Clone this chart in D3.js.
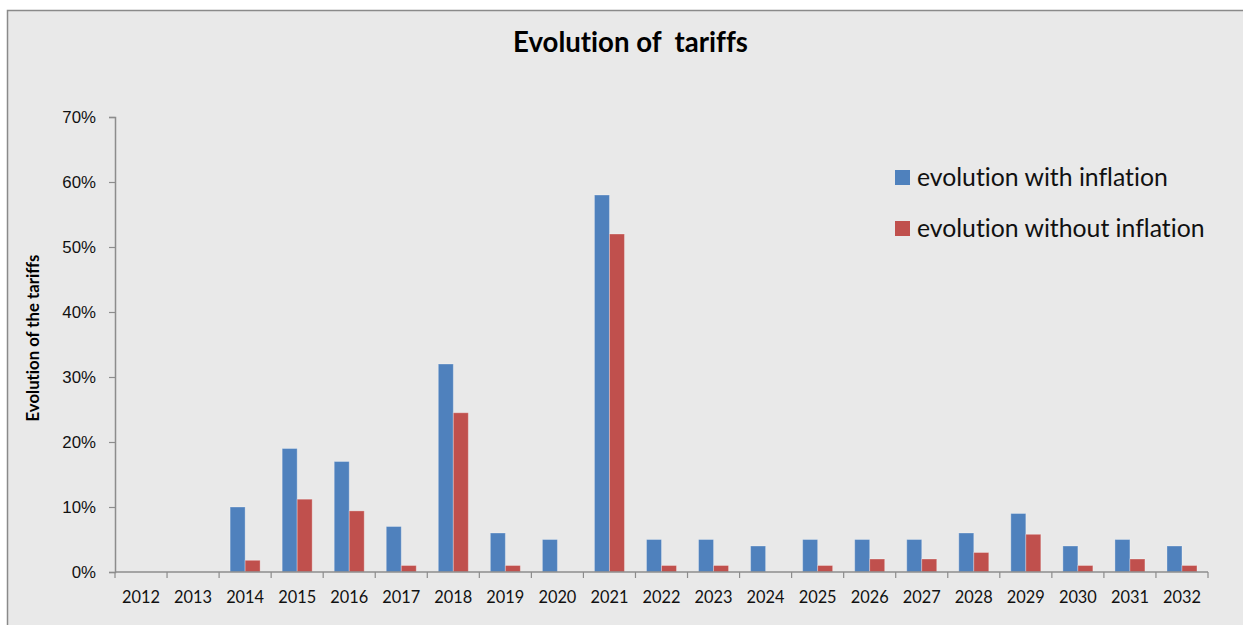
<!DOCTYPE html>
<html>
<head>
<meta charset="utf-8">
<script src="https://cdn.jsdelivr.net/npm/d3@7"></script>
<style>
  html, body { margin: 0; padding: 0; background: #ffffff; }
  svg { display: block; font-family: Lato, "Open Sans", sans-serif; font-variant-ligatures: none; }
</style>
</head>
<body>
<svg id="chart" width="1243" height="625"></svg>
<script>
// Tariff evolution per year, in percent
const years = ["2012","2013","2014","2015","2016","2017","2018","2019","2020","2021","2022",
               "2023","2024","2025","2026","2027","2028","2029","2030","2031","2032"];
const withInflation    = [0, 0, 10, 19, 17, 7, 32, 6, 5, 58, 5, 5, 4, 5, 5, 5, 6, 9, 4, 5, 4];
const withoutInflation = [0, 0, 1.8, 11.2, 9.4, 1, 24.5, 1, 0, 52, 1, 1, 0, 1, 2, 2, 3, 5.8, 1, 2, 1];
const seriesNames = ["evolution with inflation", "evolution without inflation"];
const seriesColors = ["#4F81BD", "#C0504D"];
const yTicks = [0, 10, 20, 30, 40, 50, 60, 70];

const svg = d3.select("#chart");

// font size that makes a sample string span the given width
function sizeFor(sample, width, weight) {
  const t = svg.append("text").attr("font-size", 100)
    .attr("font-weight", weight || "normal").style("white-space", "pre").text(sample);
  const w = t.node().getComputedTextLength();
  t.remove();
  return 100 * width / w;
}
const tickSize  = sizeFor("2012", 38);
const yTickSize = sizeFor("70%", 33);
const titleSize = sizeFor("Evolution of  tariffs", 235, "bold");
const yTitleSize = sizeFor("Evolution of the tariffs", 167, "bold");
const legendSize = sizeFor("evolution with inflation", 251);

// chart frame
svg.append("rect")
  .attr("x", 7.5).attr("y", 10.5)
  .attr("width", 1245).attr("height", 625)
  .attr("fill", "#e9e9e9").attr("stroke", "#8a8a8a").attr("stroke-width", 1.5);

const plot = { left: 115, right: 1208, top: 117, bottom: 572 };

const x = d3.scaleBand().domain(years).range([plot.left, plot.right]).padding(0);
const xs = d3.scaleBand().domain(seriesNames).range([0, x.bandwidth()])
  .paddingInner(0).paddingOuter(0.735);
const y = d3.scaleLinear().domain([0, 70]).range([plot.bottom, plot.top]);

const rows = years.map((yr, i) => ({ year: yr, values: [withInflation[i], withoutInflation[i]] }));

// bars
const groups = svg.append("g").selectAll("g").data(rows).join("g")
  .attr("transform", d => `translate(${x(d.year)},0)`);
groups.selectAll("rect")
  .data(d => d.values.map((v, k) => ({ v, k })))
  .join("rect")
  .attr("x", d => xs(seriesNames[d.k]))
  .attr("width", xs.bandwidth())
  .attr("y", d => y(d.v))
  .attr("height", d => y(0) - y(d.v))
  .attr("fill", d => seriesColors[d.k])
  .attr("stroke", d => d.v > 0 ? "rgba(255,255,255,0.3)" : "none")
  .attr("stroke-width", 1);

// y axis
const yAxis = svg.append("g")
  .attr("transform", `translate(${plot.left},0)`)
  .call(d3.axisLeft(y).tickValues(yTicks).tickFormat(d => d + "%").tickSize(6).tickPadding(13));
yAxis.select(".domain").attr("stroke", "#8c8c8c").attr("stroke-width", 1.5);
yAxis.selectAll(".tick line").attr("stroke", "#8c8c8c").attr("stroke-width", 1.2);
yAxis.selectAll("text").attr("font-size", yTickSize).attr("fill", "#111").attr("font-family", null);

// x axis with ticks between categories
const xAxisG = svg.append("g").attr("transform", `translate(0,${plot.bottom})`);
xAxisG.append("line")
  .attr("x1", plot.left).attr("x2", plot.right)
  .attr("stroke", "#8c8c8c").attr("stroke-width", 1.5);
const boundaries = years.map(d => x(d)).concat([x(years[years.length - 1]) + x.bandwidth()]);
xAxisG.selectAll("line.tick").data(boundaries).join("line")
  .attr("class", "tick")
  .attr("x1", d => d).attr("x2", d => d)
  .attr("y1", 0).attr("y2", 6)
  .attr("stroke", "#8c8c8c").attr("stroke-width", 1.2);
xAxisG.selectAll("text").data(years).join("text")
  .attr("x", d => x(d) + x.bandwidth() / 2)
  .attr("y", 31)
  .attr("text-anchor", "middle")
  .attr("font-size", tickSize).attr("fill", "#111")
  .text(d => d);

// title
svg.append("text")
  .attr("x", 630.5).attr("y", 52)
  .attr("text-anchor", "middle")
  .attr("font-size", titleSize).attr("font-weight", "bold").attr("fill", "#000")
  .style("white-space", "pre")
  .text("Evolution of  tariffs");

// y axis title
svg.append("text")
  .attr("transform", "translate(39,338) rotate(-90)")
  .attr("text-anchor", "middle")
  .attr("font-size", yTitleSize).attr("font-weight", "bold").attr("fill", "#000")
  .text("Evolution of the tariffs");

// legend
const legend = svg.append("g").selectAll("g").data(seriesNames).join("g")
  .attr("transform", (d, i) => `translate(895,${170 + i * 51})`);
legend.append("rect")
  .attr("width", 15).attr("height", 15)
  .attr("fill", (d, i) => seriesColors[i]);
legend.append("text")
  .attr("x", 22).attr("y", 16)
  .attr("font-size", legendSize).attr("fill", "#111")
  .text(d => d);
</script>
</body>
</html>
